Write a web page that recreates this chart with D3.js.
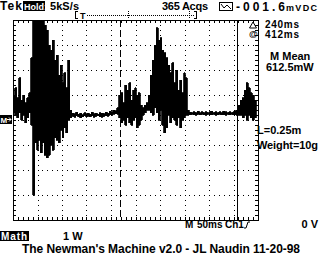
<!DOCTYPE html>
<html>
<head>
<meta charset="utf-8">
<script src="https://d3js.org/d3.v7.min.js"></script>
<style>
  body { margin: 0; background: #fff; }
  svg { display: block; }
  text { font-family: "Liberation Sans", Arial, sans-serif; font-weight: bold; fill: #000; }
</style>
</head>
<body>
<script>
// Math trace in W (1 W/div), one max/min pair every 4 ms (50 ms/div)
var hiW = [1.0,1.3,0.9,1.7,0.8,1.0,0.7,0.9,1.1,
  2.5,4.0,4.0,4.0,4.0,4.0,4.0,3.8,3.6,3.0,2.8,
  3.2,2.4,2.6,1.8,2.2,1.5,1.9,1.3,2.4,0.4,
  0.28,0.26,0.32,0.24,0.28,0.22,0.3,0.26,0.28,0.24,0.32,0.26,0.28,0.24,0.3,0.28,0.26,0.32,0.28,0.36,0.32,0.4,0.38,0.5,
  1.0,1.1,0.7,1.4,1.2,1.5,0.8,1.2,1.3,1.0,1.1,0.6,0.5,0.6,0.7,1.0,
  1.8,2.4,3.0,3.7,3.2,3.3,2.8,2.7,2.5,2.2,1.9,2.3,
  1.5,2.0,1.2,1.6,1.1,1.9,1.7,0.4,
  0.32,0.3,0.34,0.3,0.36,0.3,0.33,0.3,0.34,0.3,0.33,0.36,0.3,0.34,0.3,0.33,0.3,0.36,0.33,0.3,0.34,0.3,0.33,0.38,
  0.4,0.6,0.8,0.9,1.2,1.5,1.3,1.1,1.0,0.8,0.5];
var loW = [0.3,0.2,0.1,0.3,0.0,0.2,-0.1,0.1,0.3,
  -0.2,-3.0,-0.9,-1.2,-0.8,-1.3,-0.9,-1.4,-1.5,-1.4,-1.0,
  -1.2,-0.7,-0.8,-0.9,-0.4,-0.7,-0.3,-0.5,0.0,0.1,
  0.16,0.12,0.18,0.14,0.1,0.14,0.18,0.12,0.16,0.14,0.18,0.12,0.16,0.18,0.14,0.12,0.16,0.18,0.16,0.22,0.2,0.24,0.26,0.24,
  0.1,-0.1,0.0,-0.2,0.1,-0.1,-0.2,0.0,0.1,-0.3,-0.2,0.0,0.2,0.3,0.4,0.4,
  0.3,0.2,0.5,0.3,0.0,0.4,-0.2,-0.5,-0.3,0.2,-0.1,0.1,
  0.0,-0.2,0.1,-0.3,0.0,0.1,0.2,0.2,
  0.22,0.24,0.22,0.2,0.24,0.22,0.24,0.22,0.2,0.24,0.22,0.22,0.24,0.2,0.22,0.24,0.22,0.22,0.2,0.24,0.22,0.24,0.22,0.22,
  0.2,0.2,0.2,0.1,0.2,0.0,0.2,0.1,0.0,0.1,0.2];
var cursorMs = [218, 458];   // dashed, solid

var W = 320, H = 256;
var svg = d3.select("body").append("svg").attr("width", W).attr("height", H);

// graticule: 10 x 50 ms, 8 x 1 W
var x = d3.scaleLinear().domain([0, 500]).range([13, 258]);
var y = d3.scaleLinear().domain([-4, 4]).range([220, 20]);

var g = svg.append("g").attr("shape-rendering", "crispEdges");

// dotted grid
var minorX = d3.range(0, 501, 10), minorY = d3.range(-4, 4.01, 0.2);
d3.range(50, 500, 50).forEach(function(t) {
  g.selectAll(null).data(minorY).enter().append("rect")
    .attr("x", Math.round(x(t))).attr("y", function(d) { return Math.round(y(d)); })
    .attr("width", 1).attr("height", 1);
});
d3.range(-3, 4, 1).forEach(function(v) {
  g.selectAll(null).data(minorX).enter().append("rect")
    .attr("x", function(d) { return Math.round(x(d)); }).attr("y", Math.round(y(v)))
    .attr("width", 1).attr("height", 1);
});

// border + minor ticks
g.append("rect").attr("x", x(0) + 0.5).attr("y", y(4) + 0.5)
  .attr("width", x(500) - x(0)).attr("height", y(-4) - y(4))
  .attr("fill", "none").attr("stroke", "#000");
minorX.forEach(function(t) {
  var xx = Math.round(x(t)) + 0.5;
  g.append("line").attr("x1", xx).attr("x2", xx).attr("y1", y(4)).attr("y2", y(4) + 3).attr("stroke", "#000");
  g.append("line").attr("x1", xx).attr("x2", xx).attr("y1", y(-4)).attr("y2", y(-4) - 3).attr("stroke", "#000");
});
minorY.forEach(function(v) {
  var yy = Math.round(y(v)) + 0.5;
  g.append("line").attr("y1", yy).attr("y2", yy).attr("x1", x(0)).attr("x2", x(0) + 3).attr("stroke", "#000");
  g.append("line").attr("y1", yy).attr("y2", yy).attr("x1", x(500)).attr("x2", x(500) - 3).attr("stroke", "#000");
});

// cursors
g.append("line").attr("x1", Math.round(x(cursorMs[0])) + 0.5).attr("x2", Math.round(x(cursorMs[0])) + 0.5)
  .attr("y1", y(4)).attr("y2", y(-4)).attr("stroke", "#000").attr("stroke-dasharray", "7,3");
g.append("line").attr("x1", Math.round(x(cursorMs[1])) + 0.5).attr("x2", Math.round(x(cursorMs[1])) + 0.5)
  .attr("y1", y(4)).attr("y2", y(-4)).attr("stroke", "#000");

// trace: max/min envelope per sample column
var cols = hiW.map(function(h, i) { return { t: i * 4, hi: h, lo: loW[i] }; });
svg.append("path").datum(cols)
  .attr("d", d3.area().curve(d3.curveStepAfter)
    .x(function(d) { return x(d.t); })
    .y0(function(d) { return y(d.lo); })
    .y1(function(d) { return y(d.hi); }))
  .attr("fill", "#000").attr("stroke", "#000").attr("stroke-width", 0.8)
  .attr("shape-rendering", "crispEdges");

// ground marker M->
svg.append("rect").attr("x", 0).attr("y", 115).attr("width", 12).attr("height", 9);
svg.append("text").attr("x", 0.5).attr("y", 123).style("font-size", "8px").style("fill", "#fff").text("M");
svg.append("path").attr("d", "M7,119.5H11M9,117.5L11,119.5L9,121.5").attr("stroke", "#fff").attr("fill", "none");

function txt(s, px, py, size, anchor) {
  return svg.append("text").attr("x", px).attr("y", py).style("font-size", size + "px")
    .attr("text-anchor", anchor || "start").text(s);
}

// top status line
txt("Tek", 0, 10, 12).attr("textLength", 22);
svg.append("rect").attr("x", 23).attr("y", 1).attr("width", 22).attr("height", 10);
txt("Hold:", 24, 9.5, 9).style("fill", "#fff");
txt("5kS/s", 50, 10, 11).attr("textLength", 29);
txt("365 Acqs", 162, 10, 11).attr("textLength", 46);
svg.append("rect").attr("x", 219.5).attr("y", 2.5).attr("width", 13).attr("height", 8)
  .attr("fill", "none").attr("stroke", "#000");
svg.append("path").attr("d", "M221,4L224,8L227,5L231,9").attr("fill", "none").attr("stroke", "#000");
txt("-001.6", 236, 11, 12).attr("textLength", 49);
txt("mVDC", 286, 11, 9).attr("textLength", 31);

// record bar
var rb = svg.append("g").attr("shape-rendering", "crispEdges").attr("stroke", "#000").attr("fill", "none");
rb.append("path").attr("d", "M75.5,11V19M75.5,11.5H78M75.5,18.5H78");
rb.append("path").attr("d", "M196.5,11V19M196.5,11.5H194M196.5,18.5H194");
rb.append("line").attr("x1", 87).attr("x2", 195).attr("y1", 15.5).attr("y2", 15.5).attr("stroke-dasharray", "1,1");
[128, 189].forEach(function(px) {
  rb.append("line").attr("x1", px + 0.5).attr("x2", px + 0.5).attr("y1", 11).attr("y2", 19).attr("stroke-dasharray", "1,1");
});
txt("T", 80, 19, 9);

// readouts on the right
svg.append("path").attr("d", "M253,22L256.5,28H249.5Z").attr("fill", "none").attr("stroke", "#000");
txt("240ms", 265, 28, 10).attr("textLength", 34);
txt("@", 249, 37, 9);
txt("412ms", 265, 38, 10).attr("textLength", 34);
txt("M Mean", 270, 60, 11);
txt("612.5mW", 266, 71, 11);
txt("L=0.25m", 257, 134, 11);
txt("Weight=10g", 257, 149, 11).attr("textLength", 61);

// bottom lines
txt("M", 185, 228, 10);
txt("50ms", 197, 228, 10);
txt("Ch1", 225, 228, 10);
svg.append("path").attr("d", "M244,228L246,228L248,222H250").attr("fill", "none").attr("stroke", "#000");
txt("0 V", 318, 228, 11, "end");
svg.append("rect").attr("x", 0).attr("y", 231).attr("width", 29).attr("height", 10);
txt("Math", 1, 240, 10).attr("textLength", 26).style("fill", "#fff");
txt("1 W", 63, 240, 11);
txt("The Newman's Machine v2.0 - JL Naudin 11-20-98", 22, 253, 12).attr("textLength", 278);
</script>
</body>
</html>
